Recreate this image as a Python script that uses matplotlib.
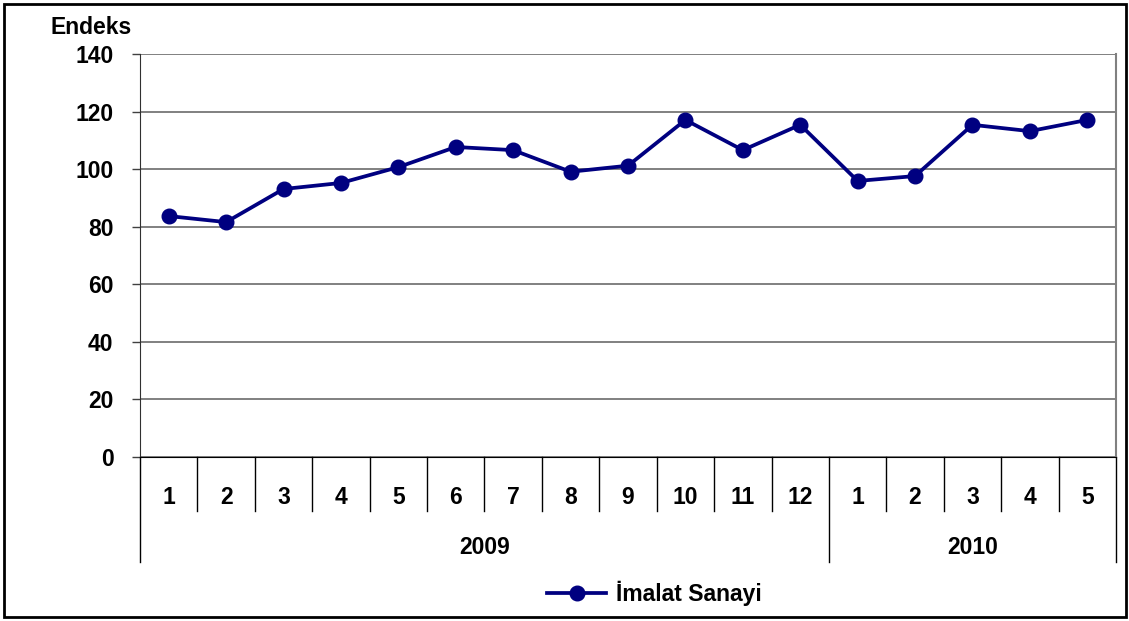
import matplotlib.pyplot as plt
from matplotlib.patches import Rectangle

plt.rcParams['font.family'] = ['Liberation Sans', 'DejaVu Sans']
plt.rcParams['font.weight'] = 'bold'

# Data: monthly manufacturing index
months = ['1', '2', '3', '4', '5', '6', '7', '8', '9', '10', '11', '12',
          '1', '2', '3', '4', '5']
years = ['2009', '2010']
year_counts = [12, 5]
imalat = [83.7, 81.6, 93.1, 95.2, 100.7, 107.7, 106.6, 99.1, 101.2, 117.1,
          106.6, 115.4, 95.9, 97.6, 115.4, 113.2, 117.1]
series_name = 'İmalat Sanayi'

fig = plt.figure(figsize=(11.29, 6.21), dpi=100)
ax = fig.add_axes([140 / 1129, 1 - 457 / 621, 976 / 1129, 403 / 621])

x = list(range(len(months)))
ax.plot(x, imalat, color='#000080', linewidth=2.7, marker='o',
        markersize=10.5, label=series_name, zorder=3)

ax.set_xlim(-0.5, len(months) - 0.5)
ax.set_ylim(0, 140)
ax.set_yticks(range(0, 141, 20))
ax.tick_params(axis='y', length=6, width=1, color='#404040', pad=13, labelsize=16.5)
ax.set_xticks(x)
ax.set_xticklabels(months)
ax.tick_params(axis='x', length=0, pad=21, labelsize=16.5)
for lbl in ax.get_xticklabels() + ax.get_yticklabels():
    lbl.set_fontweight('bold')

ax.grid(axis='y', color='#808080', linewidth=1.4)
ax.set_axisbelow(True)
ax.spines['top'].set_visible(False)
ax.spines['right'].set_color('#808080')
ax.spines['right'].set_linewidth(1.5)
ax.spines['left'].set_color('#303030')
ax.spines['bottom'].set_color('black')

# category separators below the axis
trans = ax.get_xaxis_transform()
month_sep = -(511 - 457) / 403
year_sep = -(562 - 457) / 403
boundaries = [0]
for c in year_counts:
    boundaries.append(boundaries[-1] + c)
for k in range(len(months) + 1):
    y0 = year_sep if k in boundaries else month_sep
    ax.plot([k - 0.5, k - 0.5], [0, y0], transform=trans, color='black',
            linewidth=1, clip_on=False)

for i, yr in enumerate(years):
    mid = (boundaries[i] + boundaries[i + 1]) / 2 - 0.5
    ax.text(mid, -(547 - 457) / 403, yr, transform=trans, ha='center',
            va='center', fontsize=16.5, fontweight='bold')

fig.text(50 / 1129, 1 - 28 / 621, 'Endeks', ha='left', va='center',
         fontsize=16.5, fontweight='bold')

leg = fig.legend(loc='center', bbox_to_anchor=(654 / 1129, 1 - 593 / 621),
                 frameon=False, prop={'size': 16.5, 'weight': 'bold'},
                 handlelength=2.6, handletextpad=0.4)

fig.patches.append(Rectangle((4 / 1129, 4 / 621), 1122 / 1129, 613 / 621,
                             transform=fig.transFigure, fill=False,
                             edgecolor='black', linewidth=2))

fig.savefig('out.png', dpi=100)
